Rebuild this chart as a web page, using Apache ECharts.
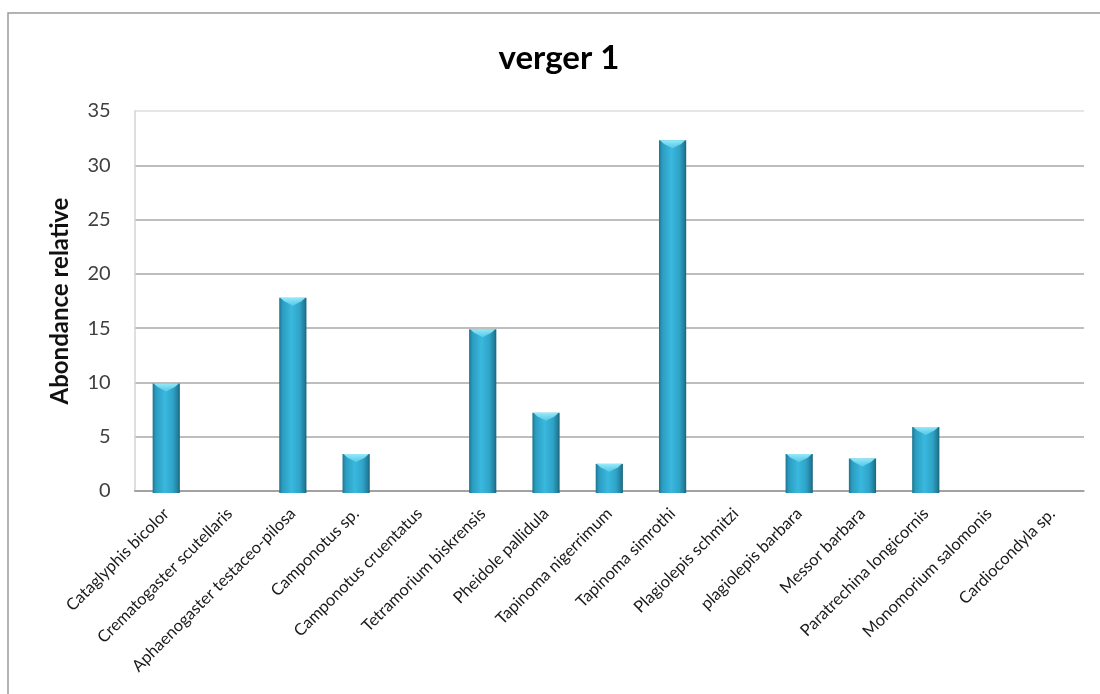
<!DOCTYPE html>
<html>
<head>
<meta charset="utf-8">
<script src="https://cdn.jsdelivr.net/npm/echarts@6/dist/echarts.min.js"></script>
<style>
  html, body { margin: 0; padding: 0; background: #ffffff; }
  #chart { width: 1100px; height: 694px; }
</style>
</head>
<body>
<div id="chart"></div>
<script>
// Species sampled in orchard 1 and their relative abundance (%)
const species = [
  'Cataglyphis bicolor',
  'Crematogaster scutellaris',
  'Aphaenogaster testaceo-pilosa',
  'Camponotus sp.',
  'Camponotus cruentatus',
  'Tetramorium biskrensis',
  'Pheidole pallidula',
  'Tapinoma nigerrimum',
  'Tapinoma simrothi',
  'Plagiolepis schmitzi',
  'plagiolepis barbara',
  'Messor barbara',
  'Paratrechina longicornis',
  'Monomorium salomonis',
  'Cardiocondyla sp.'
];
const abundance = [9.9, 0, 17.8, 3.4, 0, 14.9, 7.2, 2.5, 32.3, 0, 3.4, 3.0, 5.9, 0, 0];
const yTicks = [0, 5, 10, 15, 20, 25, 30, 35];

const chart = echarts.init(document.getElementById('chart'));

const barFill = new echarts.graphic.LinearGradient(0, 0, 1, 0, [
  { offset: 0, color: '#1d7590' },
  { offset: 0.12, color: '#2b9cc0' },
  { offset: 0.45, color: '#3ab8de' },
  { offset: 0.75, color: '#2fa3c8' },
  { offset: 0.92, color: '#237f9c' },
  { offset: 1, color: '#1a6379' }
]);

// Column with a bevelled light top, drawn on the category/value scales
function renderColumn(params, api) {
  const idx = api.value(0);
  const val = api.value(1);
  if (!val) return null;
  const base = api.coord([idx, 0]);
  const top = api.coord([idx, val]);
  const w = api.size([1, 0])[0] * 0.43;
  const x0 = base[0] - w / 2;
  const x1 = base[0] + w / 2;
  const h = base[1] - top[1];
  const bevel = Math.min(8, h / 2);
  return {
    type: 'group',
    children: [
      {
        type: 'rect',
        shape: { x: x0, y: top[1], width: w, height: h + 2 },
        style: { fill: barFill }
      },
      {
        type: 'polygon',
        shape: {
          points: [
            [x0 + 1, top[1]],
            [x1 - 1, top[1]],
            [x1 - 5, top[1] + bevel * 0.45],
            [base[0], top[1] + bevel],
            [x0 + 5, top[1] + bevel * 0.45]
          ]
        },
        style: {
          fill: new echarts.graphic.LinearGradient(0, 0, 0, 1, [
            { offset: 0, color: 'rgba(150,235,250,1)' },
            { offset: 1, color: 'rgba(110,215,240,0.6)' }
          ])
        }
      }
    ]
  };
}

chart.setOption({
  backgroundColor: '#ffffff',
  animation: false,
  title: {
    text: 'verger 1',
    left: 554,
    top: 37,
    textAlign: 'center',
    textStyle: {
      fontFamily: 'Lato',
      fontWeight: 'bold',
      fontSize: 33,
      color: '#000000'
    }
  },
  graphic: [
    {
      type: 'polyline',
      shape: { points: [[8, 700], [8, 13], [1100, 13]] },
      style: { stroke: '#9a9a9a', lineWidth: 1.5, fill: null },
      silent: true
    }
  ],
  grid: {
    left: 134.6,
    right: 16,
    top: 111,
    bottom: 203,
    containLabel: false
  },
  xAxis: {
    type: 'category',
    data: species,
    axisLine: { show: true, lineStyle: { color: '#9c9c9c', width: 1.5 } },
    axisTick: { show: false },
    axisLabel: {
      interval: 0,
      rotate: 45,
      margin: 20,
      fontFamily: 'Lato',
      fontSize: 16.5,
      color: '#1a1a1a'
    },
    splitLine: { show: false }
  },
  yAxis: {
    type: 'value',
    min: 0,
    max: 35,
    interval: 5,
    name: 'Abondance relative',
    nameLocation: 'middle',
    nameGap: 62,
    nameTextStyle: {
      fontFamily: 'Lato',
      fontWeight: 'bold',
      fontSize: 24,
      color: '#111111'
    },
    axisLine: { show: true, lineStyle: { color: '#d4d4d4', width: 1.5 } },
    axisTick: { show: false },
    axisLabel: {
      margin: 24,
      fontFamily: 'Lato',
      fontSize: 20,
      color: '#404040',
      formatter: function (v) { return yTicks.indexOf(v) >= 0 ? String(v) : ''; }
    },
    splitLine: {
      show: true,
      lineStyle: {
        color: ['#9c9c9c', '#a8a8a8', '#a8a8a8', '#a8a8a8', '#a8a8a8', '#a8a8a8', '#a8a8a8', '#dedede'],
        width: 1.5
      }
    }
  },
  series: [
    {
      type: 'custom',
      renderItem: renderColumn,
      encode: { x: 0, y: 1 },
      data: abundance.map(function (v, i) { return [i, v]; }),
      z: 3
    }
  ]
});
</script>
</body>
</html>
